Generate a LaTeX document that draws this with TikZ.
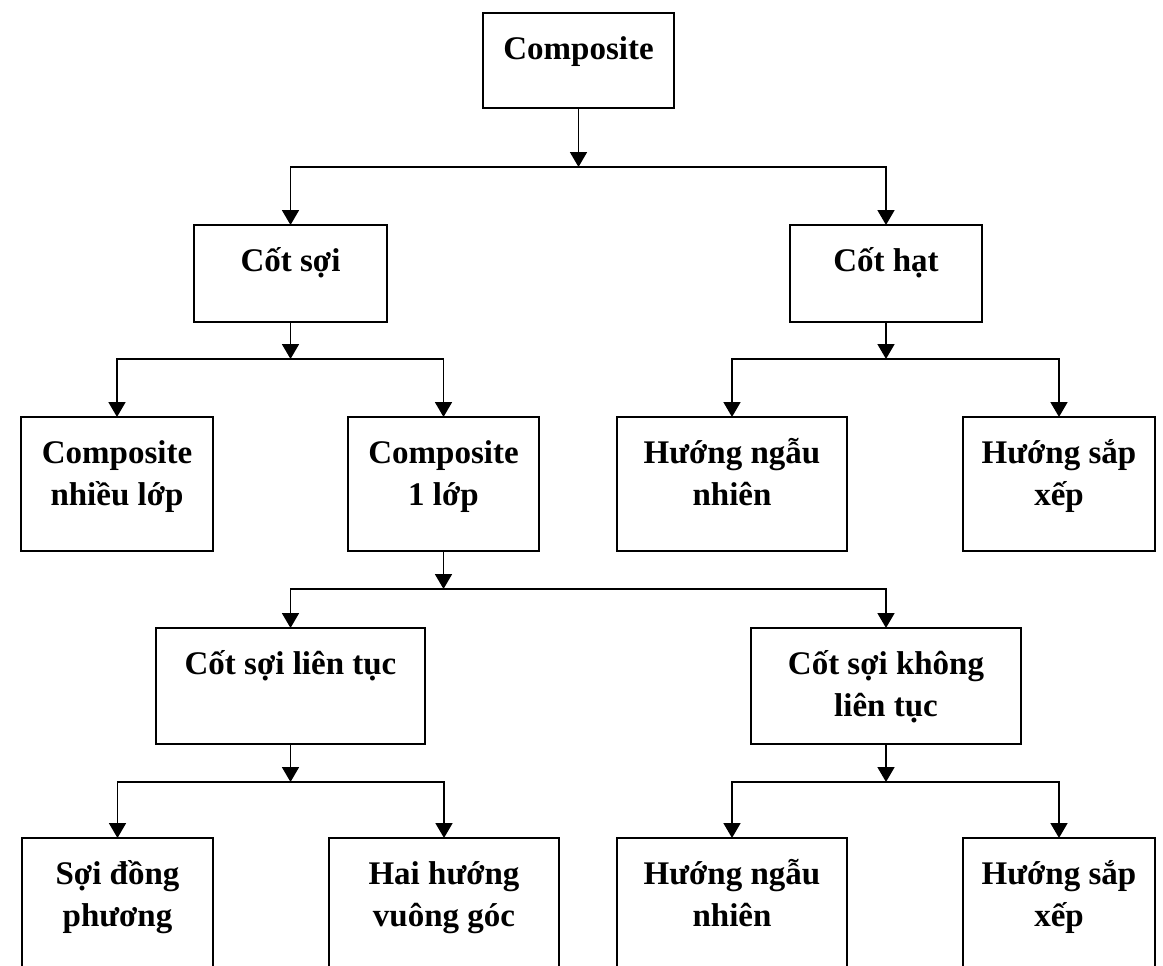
\documentclass[tikz,border=0pt]{standalone}
\usepackage{fontspec}
\setmainfont{Liberation Serif}
\usetikzlibrary{arrows.meta}
\newcommand\tstrut{\rule{0pt}{34pt}}
\tikzset{
  box/.style={draw, line width=1.8pt, inner sep=0pt, outer sep=0pt},
  lbl/.style={anchor=north, inner sep=0pt, align=center, font=\bfseries\fontsize{33}{42}\selectfont},
  conn/.style={line width=1.8pt},
  arr/.style={conn, -{Triangle[length=15pt,width=17pt]}},
}
\begin{document}
\begin{tikzpicture}[x=1pt,y=-1pt]
\useasboundingbox (0,0) rectangle (1163,966);
\clip (0,0) rectangle (1163,966);
% boxes
\node[box, minimum width=191pt, minimum height=95pt] (comp) at (578.5,60.5) {};
\node[box, minimum width=193pt, minimum height=97pt] (cs) at (290.5,273.5) {};
\node[box, minimum width=192pt, minimum height=97pt] (ch) at (886,273.5) {};
\node[box, minimum width=192pt, minimum height=134pt] (nl) at (117,484) {};
\node[box, minimum width=191pt, minimum height=134pt] (ml) at (443.5,484) {};
\node[box, minimum width=230pt, minimum height=134pt] (hn1) at (732,484) {};
\node[box, minimum width=192pt, minimum height=134pt] (hs1) at (1059,484) {};
\node[box, minimum width=269pt, minimum height=116pt] (lt) at (290.5,686) {};
\node[box, minimum width=270pt, minimum height=116pt] (klt) at (886,686) {};
\node[box, minimum width=191pt, minimum height=170pt] (dp) at (117.5,923) {};
\node[box, minimum width=230pt, minimum height=170pt] (hv) at (444,923) {};
\node[box, minimum width=230pt, minimum height=170pt] (hn2) at (732,923) {};
\node[box, minimum width=192pt, minimum height=170pt] (hs2) at (1059,923) {};
% labels
\node[lbl] (tcomp) at ([yshift=-12pt]comp.north) {\tstrut Composite};
\node[lbl] (tcs) at ([yshift=-12pt]cs.north) {\tstrut Cốt sợi};
\node[lbl] (tch) at ([yshift=-12pt]ch.north) {\tstrut Cốt hạt};
\node[lbl] (tnl) at ([yshift=-12pt]nl.north) {\tstrut Composite\\nhiều lớp};
\node[lbl] (tml) at ([yshift=-12pt]ml.north) {\tstrut Composite\\1 lớp};
\node[lbl] (thn1) at ([yshift=-12pt]hn1.north) {\tstrut Hướng ngẫu\\nhiên};
\node[lbl] (ths1) at ([yshift=-12pt]hs1.north) {\tstrut Hướng sắp\\xếp};
\node[lbl] (tlt) at ([yshift=-12pt]lt.north) {\tstrut Cốt sợi liên tục};
\node[lbl] (tklt) at ([yshift=-12pt]klt.north) {\tstrut Cốt sợi không\\liên tục};
\node[lbl] (tdp) at ([yshift=-12pt]dp.north) {\tstrut Sợi đồng\\phương};
\node[lbl] (thv) at ([yshift=-12pt]hv.north) {\tstrut Hai hướng\\vuông góc};
\node[lbl] (thn2) at ([yshift=-12pt]hn2.north) {\tstrut Hướng ngẫu\\nhiên};
\node[lbl] (ths2) at ([yshift=-12pt]hs2.north) {\tstrut Hướng sắp\\xếp};
% junctions
\coordinate (j1) at (comp.south |- 0,167);
\coordinate (j2) at (cs.south |- 0,359);
\coordinate (j3) at (ch.south |- 0,359);
\coordinate (j4) at (ml.south |- 0,589);
\coordinate (j5) at (lt.south |- 0,782);
\coordinate (j6) at (klt.south |- 0,782);
% connectors
\draw[arr] (comp.south) -- (j1);
\draw[arr] (j1) -| (cs.north);
\draw[arr] (j1) -| (ch.north);
\draw[arr] (cs.south) -- (j2);
\draw[arr] (j2) -| (nl.north);
\draw[arr] (j2) -| (ml.north);
\draw[arr] (ch.south) -- (j3);
\draw[arr] (j3) -| (hn1.north);
\draw[arr] (j3) -| (hs1.north);
\draw[arr] (ml.south) -- (j4);
\draw[arr] (j4) -| (lt.north);
\draw[arr] (j4) -| (klt.north);
\draw[arr] (lt.south) -- (j5);
\draw[arr] (j5) -| (dp.north);
\draw[arr] (j5) -| (hv.north);
\draw[arr] (klt.south) -- (j6);
\draw[arr] (j6) -| (hn2.north);
\draw[arr] (j6) -| (hs2.north);
\end{tikzpicture}
\end{document}
